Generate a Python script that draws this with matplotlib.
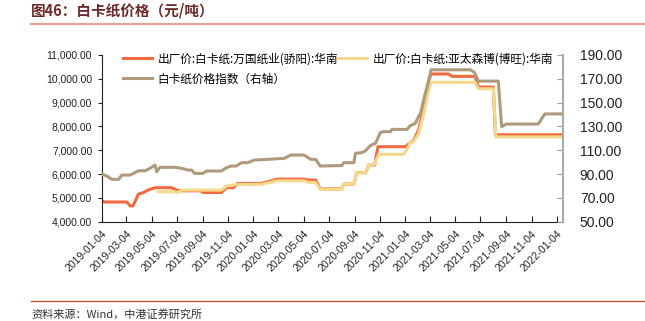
import matplotlib
matplotlib.use("Agg")
import matplotlib.pyplot as plt
import matplotlib.dates as mdates
import matplotlib.ticker as mticker
import pandas as pd
from matplotlib.lines import Line2D

plt.rcParams['font.family'] = ['Liberation Sans', 'Noto Sans CJK SC', 'DejaVu Sans']
cjk = ['Noto Sans CJK SC', 'DejaVu Sans']

# 出厂价:白卡纸:万国纸业(骄阳):华南 (元/吨)
wg_dates = ['2019-01-04', '2019-01-10', '2019-03-05', '2019-03-13', '2019-03-20', '2019-04-02',
            '2019-04-13', '2019-04-25', '2019-05-12', '2019-06-21', '2019-07-03', '2019-07-15',
            '2019-08-30', '2019-09-05', '2019-10-19', '2019-10-31', '2019-11-17', '2019-11-27',
            '2020-01-23', '2020-03-02', '2020-05-05', '2020-05-17', '2020-06-02', '2020-06-13',
            '2020-08-04', '2020-08-09', '2020-09-02', '2020-09-09', '2020-09-30', '2020-10-08',
            '2020-10-22', '2020-10-30', '2021-01-05', '2021-01-16', '2021-01-24', '2021-02-05',
            '2021-02-17', '2021-03-01', '2021-03-07', '2021-04-18', '2021-04-26', '2021-06-21',
            '2021-06-29', '2021-08-04', '2021-08-09', '2022-01-17']
wg_vals = [4880, 4830, 4830, 4670, 4670, 5160,
           5220, 5330, 5430, 5430, 5330, 5300,
           5300, 5230, 5230, 5430, 5430, 5610,
           5610, 5790, 5790, 5750, 5750, 5380,
           5380, 5580, 5580, 6060, 6060, 6380,
           6380, 7150, 7150, 7320, 7400, 7850,
           8800, 9900, 10200, 10200, 10100, 10100,
           9650, 9650, 7650, 7650]

# 出厂价:白卡纸:亚太森博(博旺):华南 (元/吨)
yt_dates = ['2019-05-19', '2019-06-29', '2019-07-06', '2019-07-15', '2019-10-19', '2019-10-31',
            '2019-11-27', '2020-01-23', '2020-03-02', '2020-05-05', '2020-05-17', '2020-06-02',
            '2020-06-13', '2020-08-04', '2020-08-09', '2020-09-02', '2020-09-09', '2020-09-30',
            '2020-10-08', '2020-10-20', '2020-11-01', '2020-12-31', '2021-01-08', '2021-01-16',
            '2021-01-24', '2021-02-05', '2021-02-17', '2021-03-01', '2021-03-07', '2021-06-21',
            '2021-06-29', '2021-08-04', '2021-08-10', '2022-01-17']
yt_vals = [5260, 5260, 5230, 5330, 5330, 5500,
           5570, 5570, 5720, 5720, 5650, 5650,
           5360, 5360, 5580, 5580, 6060, 6060,
           6380, 6380, 6830, 6830, 7040, 7320,
           7350, 7700, 8500, 9500, 9850, 9850,
           9580, 9580, 7560, 7560]

# 白卡纸价格指数 (右轴)
idx_dates = ['2019-01-04', '2019-01-16', '2019-01-28', '2019-02-13', '2019-02-21', '2019-03-13',
             '2019-03-21', '2019-04-02', '2019-04-18', '2019-04-30', '2019-05-12', '2019-05-16',
             '2019-05-24', '2019-06-29', '2019-07-15', '2019-07-30', '2019-08-08', '2019-08-16',
             '2019-09-04', '2019-09-13', '2019-10-19', '2019-10-31', '2019-11-12', '2019-11-24',
             '2019-12-06', '2019-12-21', '2020-01-06', '2020-03-18', '2020-04-03', '2020-05-05',
             '2020-05-21', '2020-06-02', '2020-06-13', '2020-08-04', '2020-08-09', '2020-09-02',
             '2020-09-06', '2020-09-21', '2020-09-30', '2020-10-12', '2020-10-24', '2020-11-05',
             '2020-11-13', '2020-11-29', '2020-12-03', '2021-01-08', '2021-01-16', '2021-01-28',
             '2021-02-05', '2021-02-10', '2021-02-19', '2021-03-01', '2021-03-07', '2021-06-09',
             '2021-06-19', '2021-06-29', '2021-08-16', '2021-08-24', '2021-09-04', '2021-11-20',
             '2021-12-06', '2022-01-17']
idx_vals = [90.1, 88.4, 85.6, 85.6, 89.2, 89.2,
            90.6, 92.8, 92.8, 94.9, 97.6, 92.0,
            95.7, 95.7, 94.9, 93.4, 93.4, 90.6,
            90.6, 92.6, 92.6, 95.4, 96.8, 96.8,
            99.6, 99.6, 101.8, 103.2, 106.0, 106.0,
            102.4, 102.4, 96.8, 97.2, 99.6, 99.6,
            107.5, 108.0, 109.6, 114.0, 115.8, 125.0,
            125.6, 125.6, 127.5, 127.5, 130.7, 132.5,
            138.5, 141.3, 155.0, 168.0, 177.5, 177.5,
            175.5, 168.0, 168.0, 129.8, 132.0, 132.0,
            140.5, 140.5]

labels = ['出厂价:白卡纸:万国纸业(骄阳):华南', '出厂价:白卡纸:亚太森博(博旺):华南', '白卡纸价格指数（右轴）']
colors = ['#F06A3E', '#F3D98C', '#AE9A7C']

fig = plt.figure(figsize=(6.45, 3.21), dpi=100)
ax = fig.add_axes([0.158, 0.309, 0.715, 0.520])
ax2 = ax.twinx()

ax.plot(pd.to_datetime(wg_dates), wg_vals, color=colors[0], lw=2.2, solid_joinstyle='round')
ax.plot(pd.to_datetime(yt_dates), yt_vals, color=colors[1], lw=2.2, solid_joinstyle='round')
ax2.plot(pd.to_datetime(idx_dates), idx_vals, color=colors[2], lw=2.2, solid_joinstyle='round')

ax.set_xlim(pd.Timestamp('2019-01-04'), pd.Timestamp('2022-01-19'))
ax.set_ylim(4000, 11000)
ax2.set_ylim(50, 190)
ax.set_yticks(range(4000, 11001, 1000))
ax2.set_yticks(range(50, 191, 20))
ax.yaxis.set_major_formatter(mticker.FuncFormatter(lambda v, p: f'{v:,.2f}'))
ax2.yaxis.set_major_formatter(mticker.FuncFormatter(lambda v, p: f'{v:.2f}'))

xt = pd.date_range('2019-01-01', '2022-01-01', freq='2MS') + pd.Timedelta(days=3)
ax.set_xticks(xt)
ax.xaxis.set_major_formatter(mdates.DateFormatter('%Y-%m-%d'))
for lab in ax.get_xticklabels():
    lab.set_rotation(45)
    lab.set_ha('right')
    lab.set_va('top')
    lab.set_rotation_mode('anchor')

ax.tick_params(axis='x', direction='in', length=4, width=0.8, pad=5, labelsize=7.5, colors='#222222')
ax.tick_params(axis='y', direction='out', length=3, width=0.8, pad=4, labelsize=7.5, colors='#222222')
ax2.tick_params(axis='y', direction='in', length=4, width=0.8, pad=12, labelsize=10,
                colors='#999999', labelcolor='#222222')

for a in (ax, ax2):
    a.spines['top'].set_visible(False)
ax.spines['right'].set_visible(False)
ax2.spines['left'].set_visible(False)
ax2.spines['bottom'].set_visible(False)
ax.spines['left'].set_color('#222222')
ax.spines['bottom'].set_color('#222222')
ax2.spines['right'].set_color('#aaaaaa')
ax2.spines['right'].set_linewidth(1.5)

handles = [Line2D([], [], color=colors[0], lw=2.2),
           Line2D([], [], color=colors[2], lw=2.2),
           Line2D([], [], color=colors[1], lw=2.2)]
leg = ax2.legend(handles, [labels[0], labels[2], labels[1]], ncol=2, loc='upper left',
                 bbox_to_anchor=(0.045, 1.015), frameon=False, borderaxespad=0, borderpad=0,
                 handlelength=2.5, handletextpad=0.5, columnspacing=0.0, labelspacing=0.6,
                 prop={'family': cjk, 'size': 8.4})

fig.text(31 / 645, 1 - 11 / 321, '图46：白卡纸价格（元/吨）', family=cjk, fontsize=10.5,
         fontweight='bold', color='#6E2A2A', va='center', ha='left')
fig.add_artist(Line2D([31 / 645, 1], [1 - 24 / 321] * 2, color='#DFA595', lw=1.6))
fig.add_artist(Line2D([31 / 645, 1], [1 - 301 / 321] * 2, color='#B5553D', lw=1.0))
fig.text(31 / 645, 1 - 314 / 321, '资料来源：Wind，中港证券研究所', family=cjk, fontsize=8,
         style='italic', color='#333333', va='center', ha='left')

fig.savefig('out.png', dpi=100)
